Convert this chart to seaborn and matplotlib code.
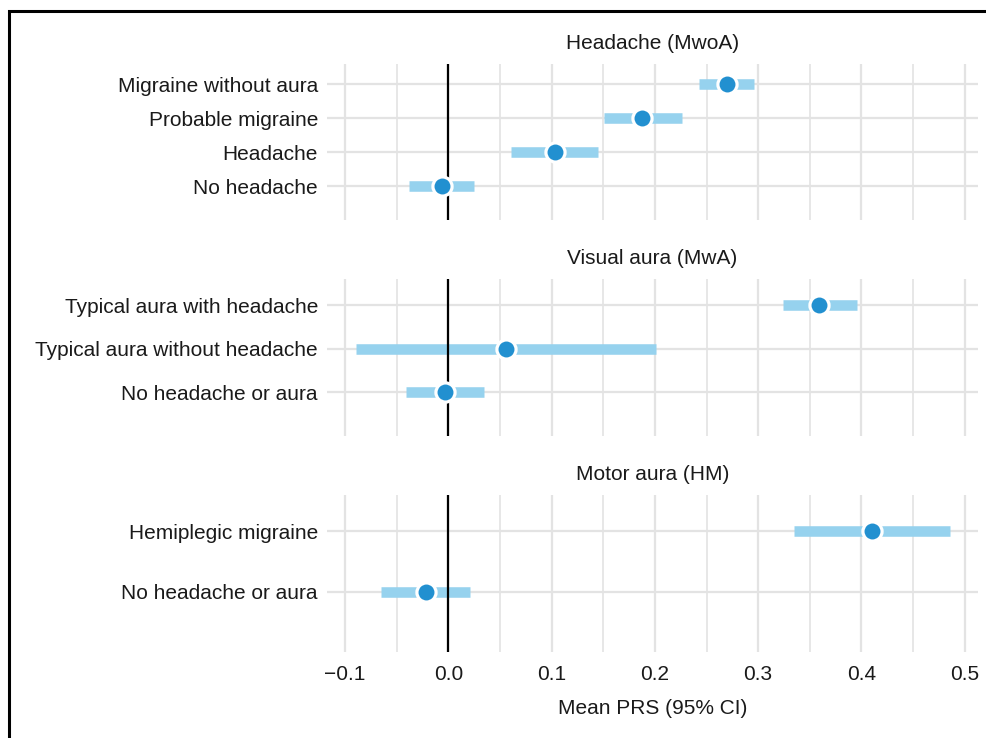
import matplotlib
matplotlib.use("Agg")
import matplotlib.pyplot as plt
from matplotlib.patches import Rectangle
from matplotlib.ticker import MultipleLocator
import seaborn as sns
import pandas as pd

# ---- data ----
panel_titles = ["Headache (MwoA)", "Visual aura (MwA)", "Motor aura (HM)"]

p1_labels = ["Migraine without aura", "Probable migraine", "Headache", "No headache"]
p1_mean = [0.270, 0.188, 0.103, -0.006]
p1_lo = [0.243, 0.151, 0.061, -0.038]
p1_hi = [0.296, 0.226, 0.145, 0.025]

p2_labels = ["Typical aura with headache", "Typical aura without headache", "No headache or aura"]
p2_mean = [0.359, 0.056, -0.003]
p2_lo = [0.324, -0.089, -0.041]
p2_hi = [0.396, 0.201, 0.035]

p3_labels = ["Hemiplegic migraine", "No headache or aura"]
p3_mean = [0.410, -0.022]
p3_lo = [0.335, -0.065]
p3_hi = [0.486, 0.021]

x_ticks = [-0.1, 0.0, 0.1, 0.2, 0.3, 0.4, 0.5]
x_label = "Mean PRS (95% CI)"

frames = [
    pd.DataFrame({"label": p1_labels, "mean": p1_mean, "lo": p1_lo, "hi": p1_hi}),
    pd.DataFrame({"label": p2_labels, "mean": p2_mean, "lo": p2_lo, "hi": p2_hi}),
    pd.DataFrame({"label": p3_labels, "mean": p3_mean, "lo": p3_lo, "hi": p3_hi}),
]

# ---- style ----
sns.set_theme(style="whitegrid")
plt.rcParams["font.family"] = ["Liberation Sans", "DejaVu Sans"]

W, H = 986, 738
fig = plt.figure(figsize=(W / 100, H / 100), dpi=100)

point_color = "#2290D0"
ci_color = "#96D2EE"
grid_color = "#E3E3E3"
text_color = "#1A1A1A"

left_px, right_px = 327, 978
panels_px = [(64, 220), (279, 436), (495, 652)]

axes = []
for i, (df, title) in enumerate(zip(frames, panel_titles)):
    top, bot = panels_px[i]
    ax = fig.add_axes([left_px / W, 1 - bot / H, (right_px - left_px) / W, (bot - top) / H])
    axes.append(ax)
    n = len(df)
    ypos = list(range(n))
    df = df.assign(y=ypos)

    # CI bars
    ax.hlines(df["y"], df["lo"], df["hi"], color=ci_color, lw=7.6, zorder=3,
              capstyle="butt")
    # zero line
    ax.axvline(0, color="black", lw=1.6, zorder=4)
    # points
    sns.scatterplot(data=df, x="mean", y="y", ax=ax, s=190, color=point_color,
                    edgecolor="white", linewidth=2.3, zorder=5, legend=False)

    ax.set_yticks(ypos)
    ax.set_yticklabels(df["label"])
    ax.set_ylim(n, -0.6)
    ax.set_xlim(-0.1174, 0.5128)
    ax.xaxis.set_major_locator(MultipleLocator(0.1))
    ax.xaxis.set_minor_locator(MultipleLocator(0.05))
    ax.set_xticks(x_ticks)

    ax.grid(True, which="major", axis="both", color=grid_color, lw=1.6, zorder=0)
    ax.grid(True, which="minor", axis="x", color=grid_color, lw=1.2, zorder=0)
    ax.set_axisbelow(True)
    for s in ax.spines.values():
        s.set_visible(False)
    ax.tick_params(axis="both", which="both", length=0, labelsize=15,
                   labelcolor=text_color)
    ax.tick_params(axis="y", pad=6.5)
    ax.tick_params(axis="x", pad=9)
    ax.set_ylabel("")
    ax.set_xlabel("")
    ax.set_title(title, fontsize=15, color=text_color, pad=10.5)
    if i < 2:
        ax.set_xticklabels([])
    else:
        ax.set_xlabel(x_label, fontsize=15, color=text_color, labelpad=11)

# outer frame (cropped at right/bottom)
rect = Rectangle((8.5 / W, -0.2), 1.2, 1 - 10.5 / H + 0.2, transform=fig.transFigure,
                 fill=False, edgecolor="black", lw=2.2, zorder=10)
fig.patches.append(rect)

fig.savefig("out.png", dpi=100, facecolor="white")
